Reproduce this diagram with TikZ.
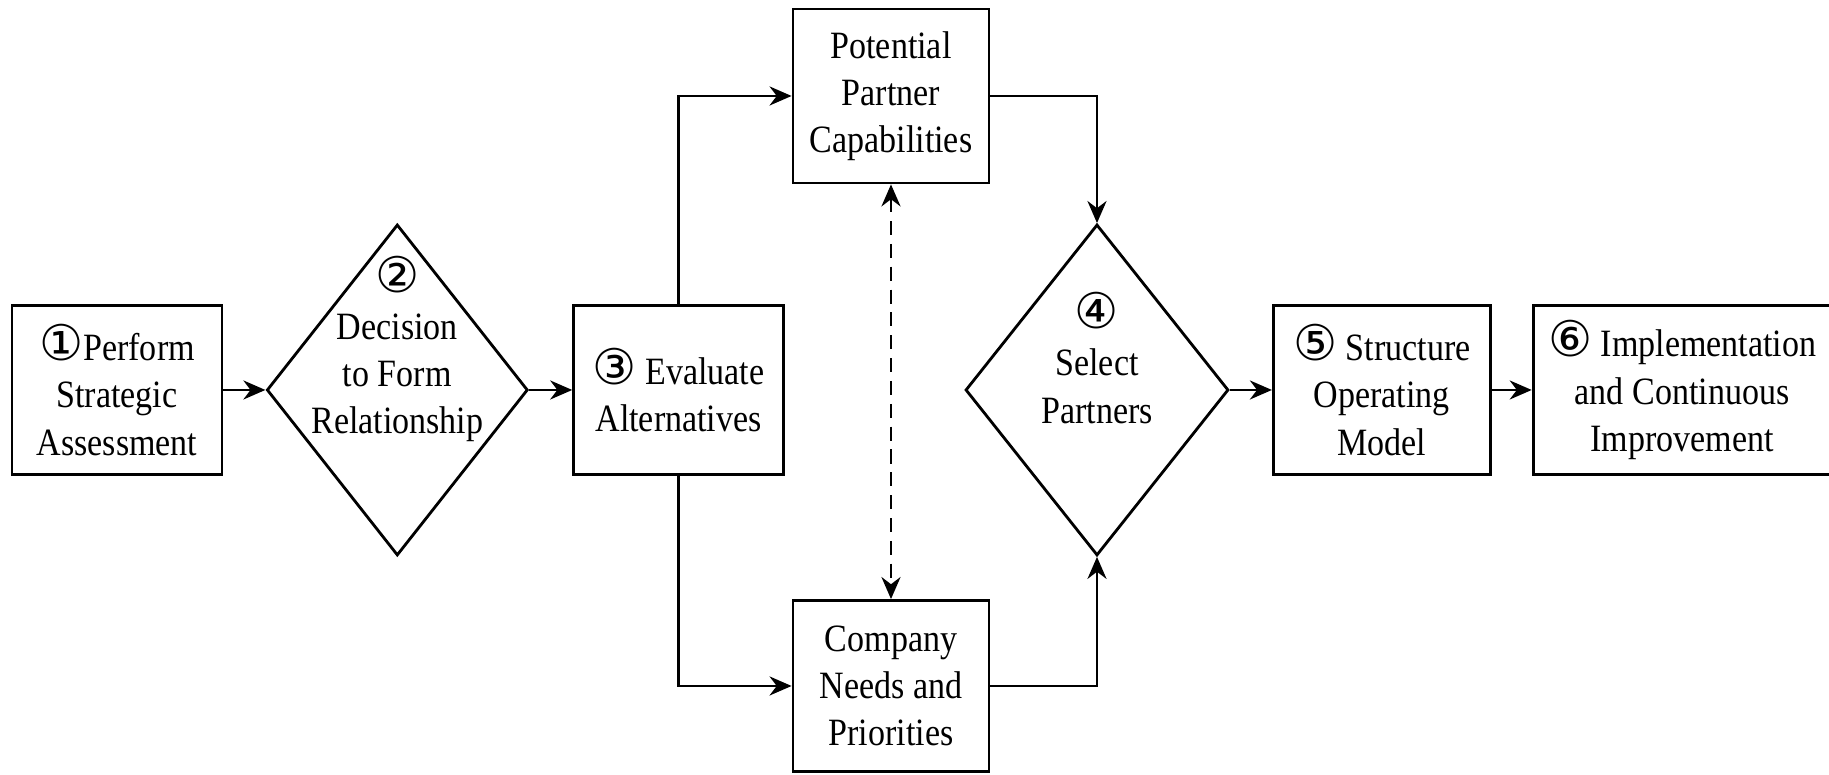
\documentclass[tikz,border=0pt]{standalone}
\usepackage{fontspec}
\setmainfont[FakeStretch=0.88]{Liberation Serif}
\newfontfamily\circfont{DejaVu Sans}
\usetikzlibrary{arrows.meta,positioning,shapes.geometric}
\newcommand{\cnum}[1]{{\circfont\fontsize{14}{13.4}\selectfont #1}}

\begin{document}
\begin{tikzpicture}[
  stepbox/.style={draw, line width=0.8pt, minimum width=2.1cm, minimum height=1.69cm,
    align=center, inner sep=2pt, font=\fontsize{11}{13.4}\selectfont},
  choice/.style={draw, diamond, line width=0.8pt, minimum width=2.61cm,
    minimum height=3.31cm, inner sep=0pt},
  choicetext/.style={align=center, font=\fontsize{11}{13.4}\selectfont},
  arrow/.style={-{Stealth[length=2.2mm, width=1.9mm]}, line width=0.8pt}
]
\useasboundingbox (0,0) rectangle (18.29,7.75);
% main row
\node[stepbox] (assess) at (1.17,3.85) {\cnum{①}Perform\\Strategic\\Assessment};
\node[choice, right=0.42cm of assess] (decide) {};
\node[choicetext] (decidetext) at ([yshift=0.41cm]decide.center) {\cnum{②}\\Decision\\to Form\\Relationship};
\node[stepbox, right=0.43cm of decide] (evaluate) {\cnum{③} Evaluate\\Alternatives};
% the two inputs
\node[stepbox, minimum width=1.96cm, minimum height=1.74cm] (partner) at (8.91,6.79) {Potential\\Partner\\Capabilities};
\node[stepbox, minimum width=1.96cm, minimum height=1.71cm] (company) at (8.91,0.89) {Company\\Needs and\\Priorities};
\node[choice, minimum width=2.63cm] (select) at (10.97,3.85) {};
\node[choicetext] (selecttext) at ([yshift=0.32cm]select.center) {\cnum{④}\\Select\\Partners};
\node[stepbox, minimum width=2.17cm, right=0.42cm of select] (structure) {\cnum{⑤} Structure\\Operating\\Model};
\node[stepbox, minimum width=2.98cm, right=0.40cm of structure] (implement) {\cnum{⑥} Implementation\\and Continuous\\Improvement};
\draw[arrow] (assess) -- (decide);
\draw[arrow] (decide) -- (evaluate);
\draw[arrow] (evaluate.north) |- (partner.west);
\draw[arrow] (evaluate.south) |- (company.west);
\draw[arrow] (partner.east) -| (select.north);
\draw[arrow] (company.east) -| (select.south);
\draw[arrow, {Stealth[length=2.2mm, width=1.9mm]}-{Stealth[length=2.2mm, width=1.9mm]}, dash pattern=on 4pt off 2.5pt] (partner.south) -- (company.north);
\draw[arrow] (select) -- (structure);
\draw[arrow] (structure) -- (implement);
\end{tikzpicture}
\end{document}
